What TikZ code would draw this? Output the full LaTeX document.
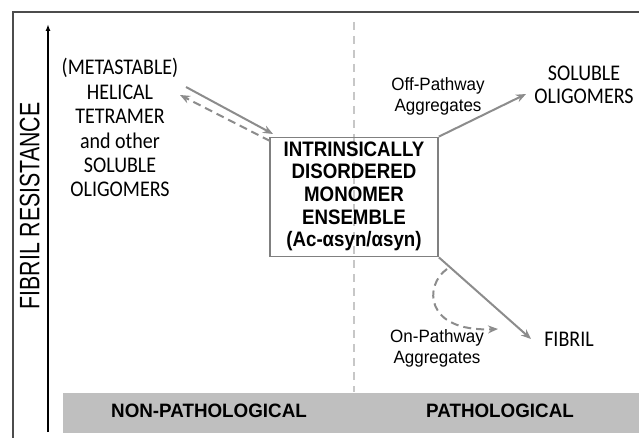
\documentclass[tikz,border=0pt]{standalone}
\usepackage{fontspec}
\setmainfont{Liberation Sans}
\newfontfamily\calibri{Carlito}
\usetikzlibrary{arrows.meta}

% text drawn a little taller than its font
\newcommand{\tallstack}[2]{\scalebox{1}[#1]{\begin{tabular}{@{}c@{}}#2\end{tabular}}}

\begin{document}
\begin{tikzpicture}[x=1pt, y=-1pt,
      frame/.style={draw=black!70, line width=1.3pt},
      axis/.style={line width=1.4pt, -{Latex[length=7pt, width=5pt]}},
      divider/.style={draw=black!22, line width=1.8pt, dash pattern=on 8pt off 6pt},
      bar/.style={fill=black!25},
      pathway/.style={draw=black!45, line width=2pt, -{Stealth[length=10pt, width=8pt]}},
      backpath/.style={pathway, dash pattern=on 8pt off 5pt},
      monobox/.style={draw=black!50, line width=1.8pt, minimum width=168pt, minimum height=119pt,
        inner sep=0pt, font=\bfseries\fontsize{18.7}{20.1}\selectfont},
      species/.style={font=\calibri\fontsize{20}{21.8}\selectfont, inner sep=0pt},
      rightspecies/.style={species, font=\calibri\fontsize{20}{20.5}\selectfont},
      pathtext/.style={font=\fontsize{17}{19.5}\selectfont, inner sep=0pt},
      bartext/.style={font=\bfseries\fontsize{18.8}{22}\selectfont, inner sep=0pt}
    ]

    \useasboundingbox (0, 0) rectangle (639, 438);

    % Draw frame
    \draw[frame] (13, 438) -- (13, 12) -- (639, 12);

    % Draw bottom bar
    \fill[bar] (63, 393) rectangle (639, 433);
    \node[bartext] (nonpath) at (209, 413) {\tallstack{1.03}{NON-PATHOLOGICAL}};
    \node[bartext] (path) at (500, 413) {\tallstack{1.03}{PATHOLOGICAL}};

    % Draw divider
    \draw[divider] (354, 22) -- (354, 392);

    % Draw fibril resistance axis
    \coordinate (axisfoot) at (48, 432);
    \coordinate (axistop) at (48, 24);
    \draw[axis] (axisfoot) -- (axistop);
    \node[rotate=90, inner sep=0pt, font=\fontsize{21.3}{24}\selectfont] (resist) at (33, 206)
      {\tallstack{1.32}{FIBRIL RESISTANCE}};

    % Monomer ensemble
    \node[monobox] (monomer) at (354, 197)
      {\tallstack{1.12}{INTRINSICALLY\\DISORDERED\\MONOMER\\ENSEMBLE\\(Ac-αsyn/αsyn)}};

    % Species
    \node[species] (tetramer) at (120, 131)
      {\tallstack{1.12}{(METASTABLE)\\HELICAL\\TETRAMER\\and other\\SOLUBLE\\OLIGOMERS}};
    \node[rightspecies] (oligomers) at (584, 87) {\tallstack{1.12}{SOLUBLE\\OLIGOMERS}};
    \node[rightspecies] (fibril) at (569, 342) {\tallstack{1.12}{FIBRIL}};

    % Pathway labels
    \node[pathtext] (offpath) at (438, 97) {\tallstack{1.05}{Off-Pathway\\Aggregates}};
    \node[pathtext] (onpath) at (437, 349) {\tallstack{1.05}{On-Pathway\\Aggregates}};

    % Arrow ends
    \coordinate (tetout) at (186, 87);
    \coordinate (tetin) at (180, 95);
    \coordinate (monoin) at (273, 134);
    \coordinate (monoout) at (270, 141);
    \coordinate (offend) at (526, 94);
    \coordinate (fibend) at (531, 339);
    \coordinate (onstart) at (447, 269);
    \coordinate (onend) at (498, 329);

    % Draw pathways
    \draw[pathway] (tetout) -- (monoin);
    \draw[backpath] (monoout) -- (tetin);
    \draw[pathway] (monomer.north east) -- (offend);
    \draw[pathway] (monomer.south east) -- (fibend);
    \draw[backpath] (onstart) .. controls (424, 285) and (424, 332) .. (onend);

  \end{tikzpicture}
\end{document}
